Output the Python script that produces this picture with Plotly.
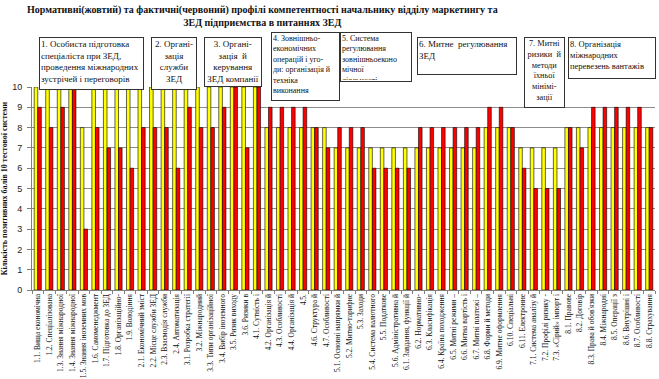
import plotly.graph_objects as go

categories = [
    "1.1. Вища економічна", "1.2. Спеціалізована", "1.3. Знання міжнародної", "1.4. Знання міжнародної",
    "1.5. Знання іноземних мов", "1.6. Самоменеджмент", "1.7. Підготовка до ЗЕД", "1.8. Організаційно-",
    "1.9. Володіння",
    "2.1. Економічний зміст", "2.2. Місце служби ЗЕД", "2.3. Взаємодія служби", "2.4. Автоматизація",
    "3.1. Розробка стратегії", "3.2. Міжнародний", "3.3. Типи організаційної", "3.4. Вибір іноземного",
    "3.5. Ризик виходу", "3.6. Ризики в",
    "4.1. Сутність і", "4.2. Організація й", "4.3. Особливості", "4.4. Організація й", "4.5.",
    "4.6. Структура й", "4.7. Особливості",
    "5.1. Основні напрямки й", "5.2. Митно-тарифне", "5.3. Заходи", "5.4. Система валютного",
    "5.5. Податкове", "5.6. Адміністративна й",
    "6.1. Завдання, функції й", "6.2. Нормативно-", "6.3. Класифікація", "6.4. Країна походження",
    "6.5. Митні режими –", "6.6. Митна вартість і", "6.7. Митні платежі –", "6.8. Форми й методи",
    "6.9. Митне оформлення", "6.10. Спеціальні", "6.11. Електронне",
    "7.1. Система аналізу й", "7.2. Профілі ризику -", "7.3. «Сірий» імпорт і",
    "8.1. Правове", "8.2. Договір", "8.3. Права й обов'язки", "8.4. Міжнародні", "8.5. Операції з",
    "8.6. Внутрішні і", "8.7. Особливості", "8.8. Страхування",
]

normative = [10, 10, 10, 10, 8, 10, 10, 10, 10,
             10, 10, 10, 10,
             10, 10, 10, 10, 10, 10,
             10, 8, 8, 8, 8, 8, 8,
             7, 7, 7, 7, 7, 7,
             7, 7, 7, 7, 7, 7, 7, 8, 8, 8, 7,
             7, 7, 7,
             8, 8, 8, 8, 8, 8, 8, 8]

actual = [9, 8, 9, 10, 3, 8, 7, 7, 6,
          8, 8, 8, 6,
          9, 8, 8, 9, 10, 7,
          10, 9, 9, 9, 9, 8, 7,
          8, 8, 8, 6, 6, 6,
          6, 8, 8, 8, 8, 8, 8, 9, 9, 8, 6,
          5, 5, 5,
          8, 7, 9, 9, 9, 9, 9, 8]

title_lines = ["Нормативні(жовтий) та фактичні(червоний) профілі компетентності начальнику відділу маркетингу та",
               "ЗЕД підприємства в питаннях ЗЕД"]
y_title = "Кількість позитивних балів 10 тестової системи"

section_boxes = [
    # text, left, top, right, bottom (px), align, font size
    ("1. Особиста підготовка<br>спеціаліста при ЗЕД,<br>проведення міжнародних<br>зустрічей і переговорів", 39, 37, 143, 89, "left", 9),
    ("2. Органі-<br>зація<br>служби<br>ЗЕД", 151, 37, 196, 89, "center", 9),
    ("3. Органі-<br>зація  й<br>керування<br>ЗЕД компанії", 204, 37, 261, 86, "center", 9),
    ("4. Зовнішньо-<br>економічних<br>операцій і уго-<br>ди: організація й<br>техніка<br>виконання", 271, 32, 339, 100, "left", 8),
    ("5. Система<br>регулювання<br>зовнішньоеконо<br>мічної<br>діяльності", 340, 32, 411, 81, "left", 8),
    ("6. Митне  регулювання<br>ЗЕД", 417, 37, 516, 74, "left", 9),
    ("7. Митні<br>ризики  й<br>методи<br>їхньої<br>мінімі-<br>зації", 524, 37, 564, 107, "center", 8.3),
    ("8. Організація<br>міжнародних<br>перевезень вантажів", 568, 37, 655, 78, "left", 8.5),
]

W, H = 659, 379
L, R, T, B = 32, 4, 87, 89
PW, PH = W - L - R, H - T - B
SERIF = "Times New Roman, Liberation Serif, serif"

fig = go.Figure()
fig.add_trace(go.Bar(x=categories, y=normative, name="Нормативний",
                     marker=dict(color="#FFFF00", line=dict(color="#000000", width=0.6))))
fig.add_trace(go.Bar(x=categories, y=actual, name="Фактичний",
                     marker=dict(color="#FF0000", line=dict(color="#000000", width=0.6))))

annotations = []
for text, l, t, r, b, align, fs in section_boxes:
    bp = 1
    annotations.append(dict(
        text=text, xref="paper", yref="paper",
        x=(l - L) / PW, y=(H - B - t) / PH, xanchor="left", yanchor="top",
        width=(r - l) - 2 * bp - 1, height=(b - t) - 2 * bp - 1,
        align=align, valign="top", showarrow=False,
        bgcolor="white", bordercolor="#333333", borderwidth=1, borderpad=bp,
        font=dict(family=SERIF, size=fs, color="#111111"),
    ))

annotations.append(dict(
    text="<b>" + title_lines[0] + "</b><br><b>" + title_lines[1] + "</b>",
    xref="paper", yref="paper", x=(262 - L) / PW, y=(H - B - 2) / PH,
    xanchor="center", yanchor="top", showarrow=False, align="center",
    font=dict(family=SERIF, size=10, color="#111111"),
))

fig.update_layout(
    width=W, height=H,
    margin=dict(l=L, r=R, t=T, b=B, pad=0),
    paper_bgcolor="white", plot_bgcolor="white",
    barmode="group", bargap=0.38, bargroupgap=0.0,
    showlegend=False,
    annotations=annotations,
    xaxis=dict(
        type="category", tickangle=-90, showgrid=False,
        showline=True, linecolor="#808080", linewidth=1,
        ticks="outside", tickson="boundaries", ticklen=3, tickcolor="#808080",
        tickfont=dict(family=SERIF, size=7.5, color="#111111"),
        automargin=False,
    ),
    yaxis=dict(
        range=[0, 10], dtick=1, showgrid=True, gridcolor="#8c8c8c", gridwidth=1,
        showline=True, linecolor="#808080", linewidth=1,
        ticks="outside", ticklen=4, tickcolor="#808080", ticklabelstandoff=3,
        tickfont=dict(family="Liberation Sans", size=9, color="#222222"),
        title=dict(text="<b>" + y_title + "</b>", standoff=8,
                   font=dict(family=SERIF, size=8, color="#111111")),
        automargin=False, zeroline=False,
    ),
)

fig.write_html("out.html", config={"displayModeBar": False},
               post_script="document.body.style.margin='0px';")
